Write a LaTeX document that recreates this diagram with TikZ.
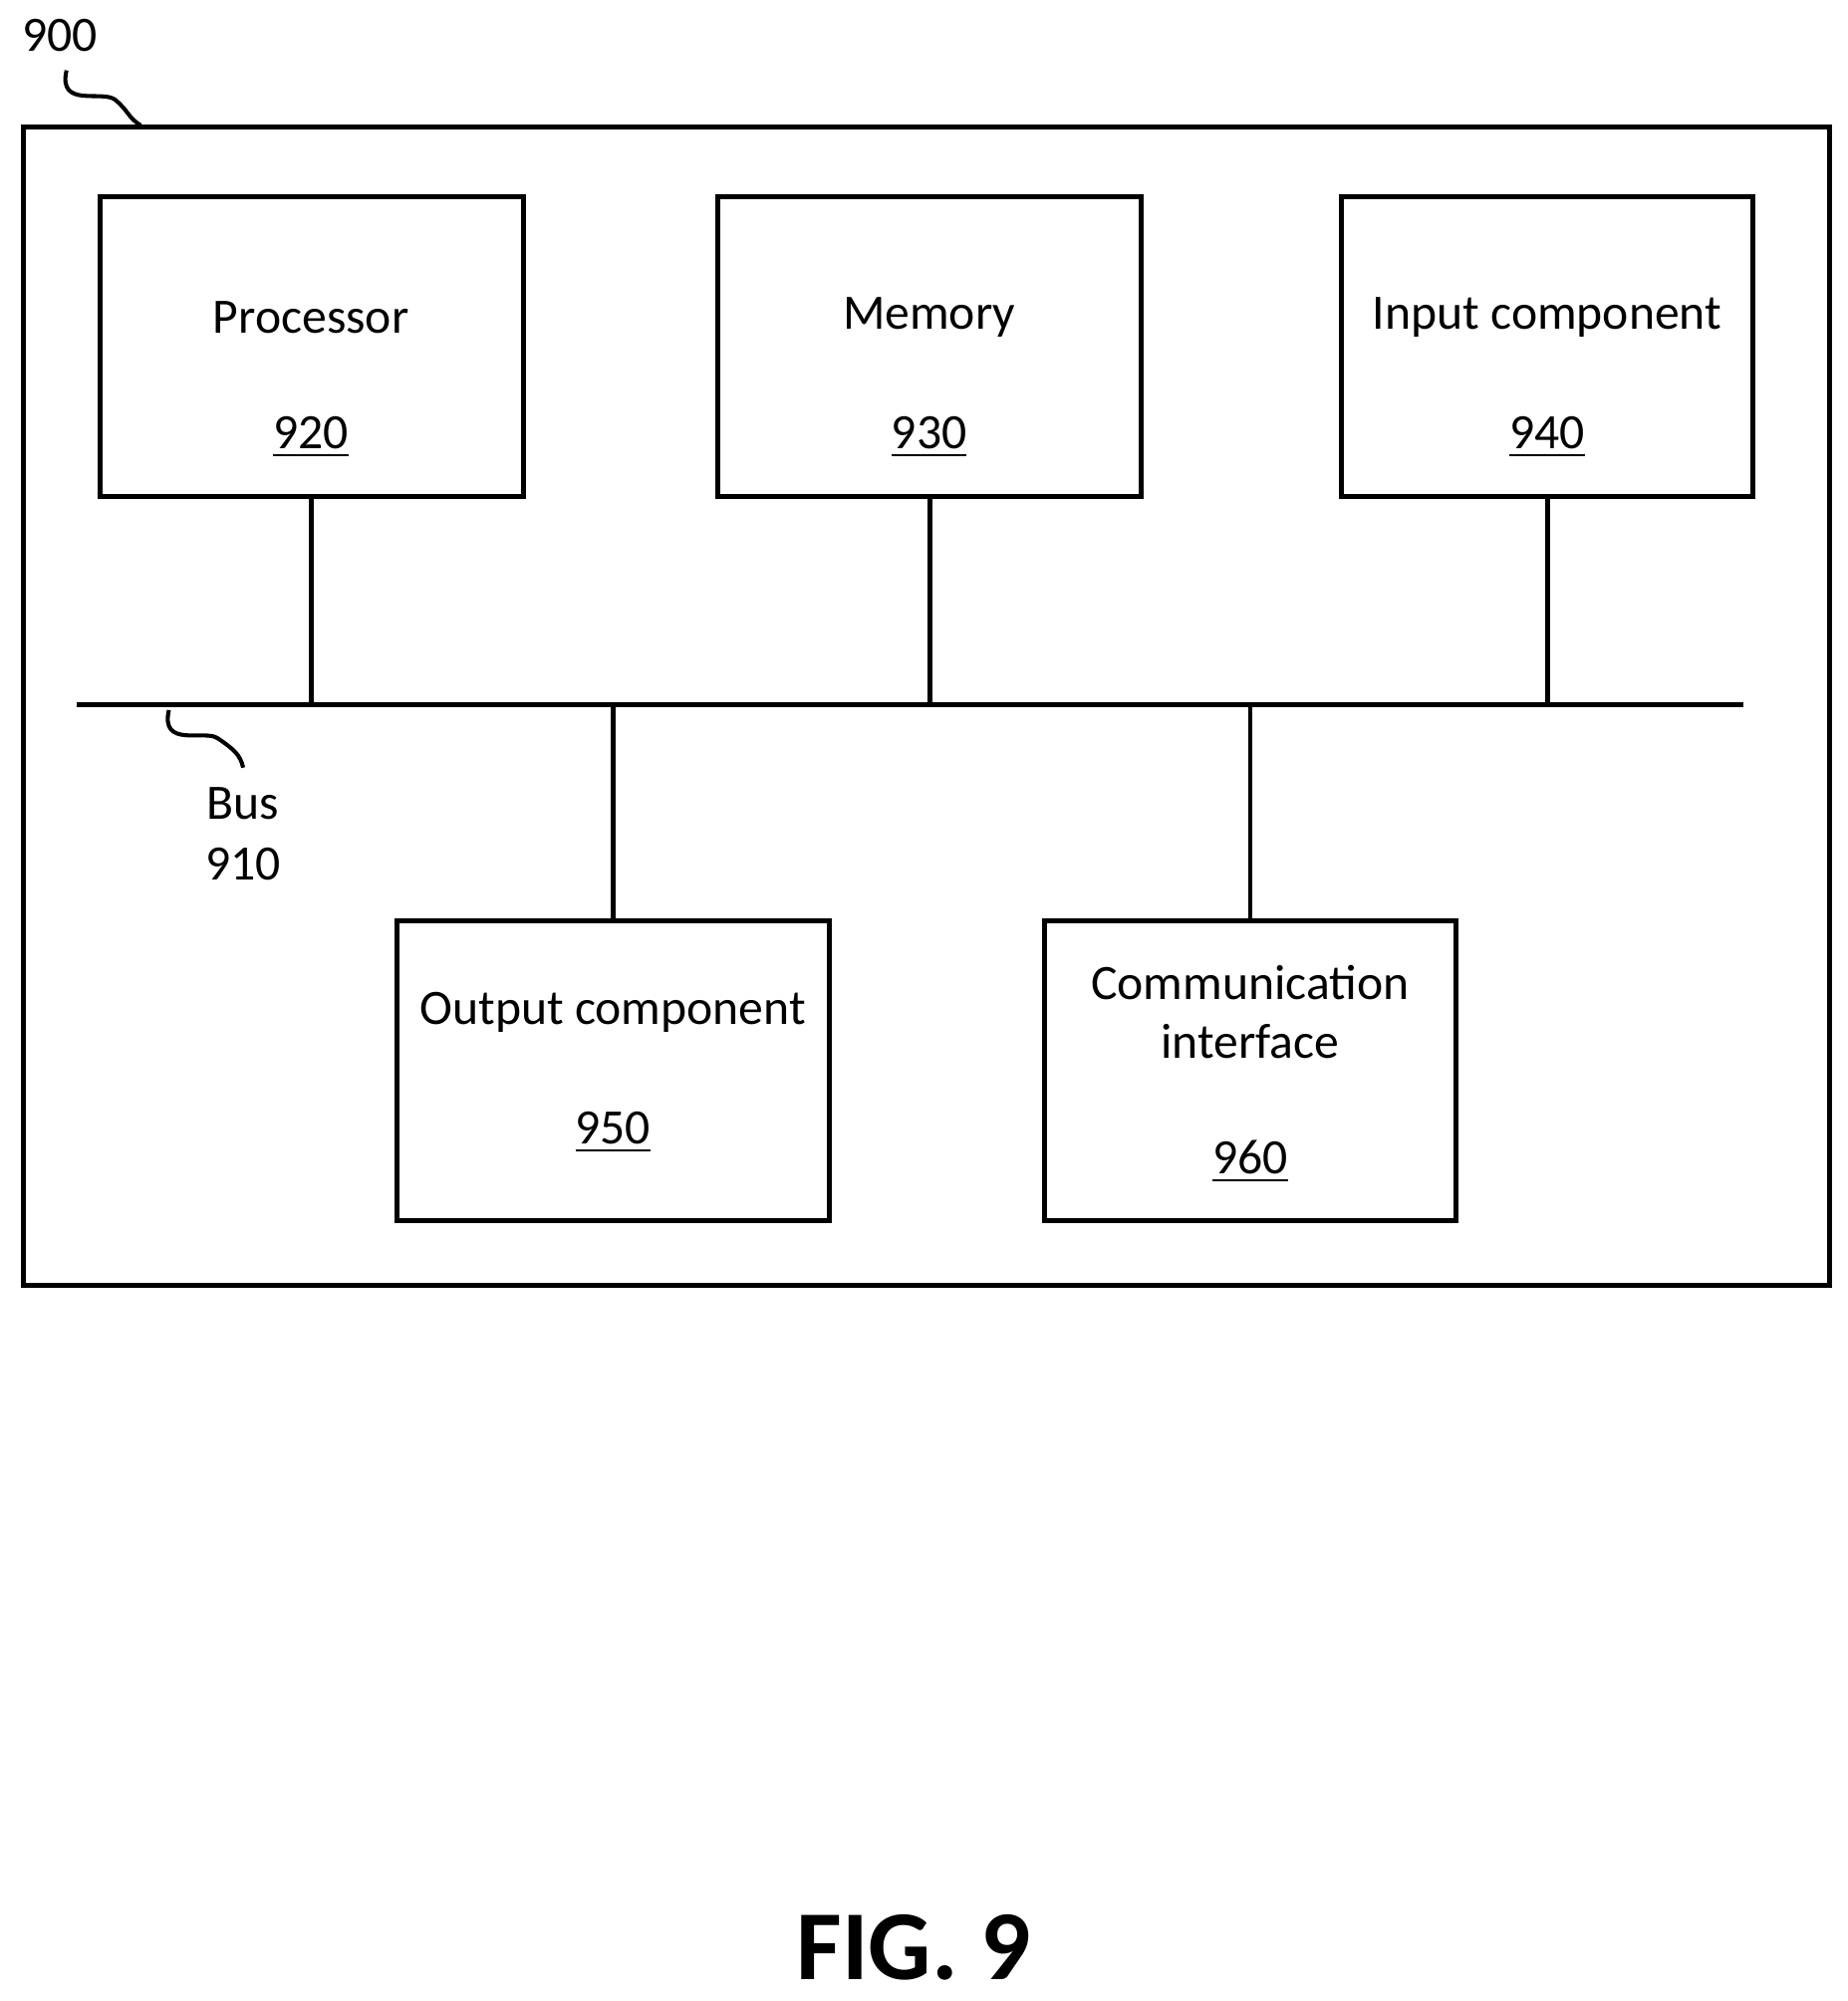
\documentclass[tikz,border=0pt]{standalone}
\usepackage{fontspec}
\setmainfont{Carlito}
\begin{document}
\begin{tikzpicture}[x=0.1mm,y=-0.1mm,
  box/.style={draw,line width=1.1pt,inner sep=0pt,outer sep=0pt},
  ln/.style={line width=1.1pt},
  lab/.style={font=\fontsize{11}{13}\selectfont,inner sep=0pt}]
\useasboundingbox (0,0) rectangle (1444,1564);
\node[box,minimum width=141.2mm,minimum height=90.6mm,anchor=north west] (sys) at (18,99) {};
\node[box,minimum width=33.1mm,minimum height=23.4mm,anchor=north west] (p) at (78,154) {};
\node[box,minimum width=33.1mm,minimum height=23.4mm,anchor=north west] (m) at (561,154) {};
\node[box,minimum width=32.2mm,minimum height=23.4mm,anchor=north west] (i) at (1048,154) {};
\node[box,minimum width=33.8mm,minimum height=23.4mm,anchor=north west] (o) at (310,720) {};
\node[box,minimum width=32.2mm,minimum height=23.4mm,anchor=north west] (c) at (816,720) {};
\node[lab] (pt) at (243,248) {Processor};
\node[lab] (pn) at (243,342) {\underline{920}};
\node[lab] (mt) at (726,248) {Memory};
\node[lab] (mn) at (726,342) {\underline{930}};
\node[lab] (it) at (1209,248) {Input component};
\node[lab] (in) at (1209,342) {\underline{940}};
\node[lab] (ot) at (479,791) {Output component};
\node[lab] (on) at (479,885) {\underline{950}};
\node[lab,align=center] (ct) at (977,791) {Communication\\interface};
\node[lab] (cn) at (977,908) {\underline{960}};
\coordinate (b1) at (60,551);
\coordinate (b2) at (1362,551);
\draw[ln] (b1) -- (b2);
\draw[ln] (p.south) -- (p.south |- b1);
\draw[ln] (m.south) -- (m.south |- b1);
\draw[ln] (i.south) -- (i.south |- b1);
\draw[ln] (o.north) -- (o.north |- b1);
\draw[ln] (c.north) -- (c.north |- b1);
\node[lab] (l900) at (47,28) {900};
\coordinate (s1) at (52,55);
\coordinate (s2) at (110,98);
\draw[line width=0.9pt] (s1) .. controls (45,85) and (80,70) .. (90,78) .. controls (100,86) and (100,92) .. (s2);
\coordinate (t1) at (132,555);
\coordinate (t2) at (190,600);
\draw[line width=0.9pt] (t1) .. controls (125,585) and (160,570) .. (170,577) .. controls (182,585) and (188,590) .. (t2);
\node[lab] (bt) at (190,628) {Bus};
\node[lab] (bn) at (190,675) {910};
\node[inner sep=0pt,font=\fontsize{22}{26}\selectfont\bfseries] (fig) at (714,1522) {FIG. 9};
\end{tikzpicture}
\end{document}
